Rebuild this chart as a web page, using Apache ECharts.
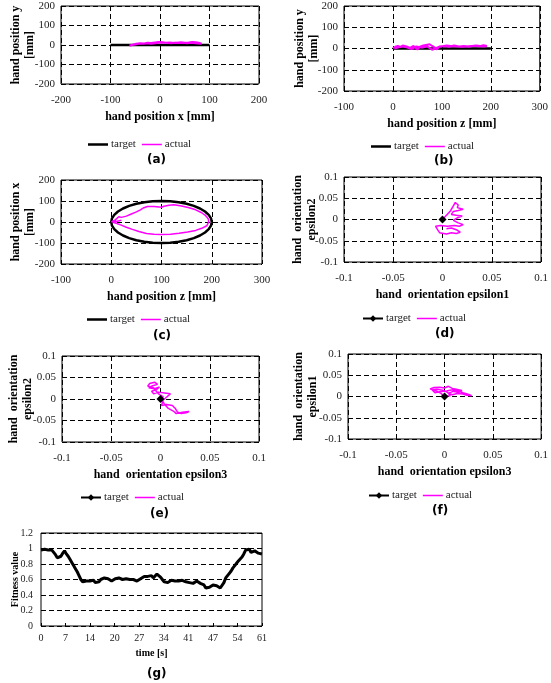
<!DOCTYPE html>
<html><head><meta charset="utf-8">
<script src="https://cdn.jsdelivr.net/npm/echarts@6/dist/echarts.min.js"></script>
<style>html,body{margin:0;padding:0;background:#fff}#c{width:551px;height:683px}</style>
</head><body><div id="c"></div><script>
// ---------------- DATA ----------------
// (a) hand position x vs y [mm]
const targetA = [[-100,0],[100,0]];
const actualA = [[-60,-4],[-55,2],[-48,6],[-40,9],[-32,8],[-25,11],[-18,10],[-10,13],[-3,15],[5,14],[12,12],[20,13],[28,10],[35,12],[42,14],[50,11],[58,13],[65,16],[72,14],[78,12],[84,7],[80,5],[72,9],[63,12],[55,9],[47,12],[38,10],[30,12],[22,9],[14,11],[6,13],[-2,11],[-10,9],[-18,7],[-26,9],[-34,6],[-42,7],[-50,3],[-57,0],[-62,-3]];
// (b) hand position z vs y [mm]
const targetB = [[0,0],[200,0]];
const actualB = [[0,2],[5,8],[10,12],[15,6],[20,14],[28,10],[35,3],[42,12],[50,-5],[55,8],[62,14],[70,18],[75,20],[80,12],[85,5],[90,-4],[95,10],[105,12],[115,8],[125,14],[135,10],[145,12],[155,8],[165,13],[175,10],[185,15],[192,12],[195,6],[185,9],[170,14],[155,11],[140,8],[125,10],[110,14],[95,8],[80,-6],[70,10],[60,4],[48,10],[38,-3],[28,6],[18,11],[10,4],[3,0]];
// (c) hand position z vs x [mm]
const targetC = [[200,0],[198.5,17.4],[194,34.2],[186.6,50],[176.6,64.3],[164.3,76.6],[150,86.6],[134.2,94],[117.4,98.5],[100,100],[82.6,98.5],[65.8,94],[50,86.6],[35.7,76.6],[23.4,64.3],[13.4,50],[6,34.2],[1.5,17.4],[0,0],[1.5,-17.4],[6,-34.2],[13.4,-50],[23.4,-64.3],[35.7,-76.6],[50,-86.6],[65.8,-94],[82.6,-98.5],[100,-100],[117.4,-98.5],[134.2,-94],[150,-86.6],[164.3,-76.6],[176.6,-64.3],[186.6,-50],[194,-34.2],[198.5,-17.4],[200,0]];
const actualC = [[0,0],[8,10],[15,25],[12,18],[20,22],[30,28],[40,38],[50,48],[58,58],[65,68],[72,74],[85,74],[95,72],[100,70],[105,75],[115,80],[125,82],[140,76],[155,68],[168,58],[180,44],[188,30],[193,15],[194,0],[190,-18],[180,-30],[168,-40],[152,-48],[135,-54],[118,-58],[100,-60],[85,-58],[70,-55],[55,-45],[42,-35],[30,-25],[20,-15],[10,-6],[3,-1],[12,4],[20,8],[10,3],[2,1]];
// (d) epsilon1 vs epsilon2
const targetD = [[0,0]];
const actualD = [[0,0],[0.004,0.01],[0.008,0.02],[0.011,0.032],[0.013,0.04],[0.016,0.034],[0.015,0.028],[0.021,0.024],[0.016,0.021],[0.011,0.019],[0.009,0.012],[0.014,0.01],[0.02,0.008],[0.015,0.004],[0.011,-0.002],[0.016,-0.008],[0.021,-0.012],[0.017,-0.016],[0.012,-0.014],[0.005,-0.016],[-0.002,-0.014],[-0.007,-0.016],[-0.005,-0.024],[-0.003,-0.031],[0.004,-0.034],[0.009,-0.031],[0.014,-0.033],[0.018,-0.03],[0.014,-0.024],[0.009,-0.02],[0.004,-0.022]];
// (e) epsilon3 vs epsilon2
const targetE = [[0,0]];
const actualE = [[0,0],[0.002,-0.008],[0.001,-0.015],[0.006,-0.013],[0.012,-0.015],[0.015,-0.022],[0.017,-0.03],[0.021,-0.034],[0.026,-0.032],[0.029,-0.029],[0.022,-0.031],[0.016,-0.034],[0.013,-0.028],[0.008,-0.022],[0.004,-0.012],[0.002,-0.004],[0.006,0.004],[0.01,0.012],[0.004,0.014],[-0.002,0.016],[-0.007,0.012],[-0.009,0.018],[-0.004,0.022],[-0.008,0.027],[-0.013,0.03],[-0.011,0.036],[-0.006,0.039],[-0.003,0.034],[-0.008,0.031],[-0.012,0.026],[-0.006,0.024],[-0.001,0.028],[-0.005,0.02],[-0.002,0.012],[0.003,0.005],[0,0.002]];
// (f) epsilon3 vs epsilon1
const targetF = [[0,0]];
const actualF = [[0,0],[-0.004,0.008],[-0.01,0.014],[-0.015,0.018],[-0.011,0.021],[-0.005,0.022],[0,0.02],[0.004,0.024],[0.008,0.019],[0.012,0.017],[0.018,0.014],[0.015,0.01],[0.009,0.012],[0.004,0.008],[0.008,0.004],[0.013,0.007],[0.019,0.006],[0.023,0.003],[0.028,0.002],[0.025,0.005],[0.019,0.009],[0.014,0.013],[0.008,0.016],[0.002,0.013],[-0.004,0.012],[-0.01,0.009],[-0.013,0.016],[-0.008,0.017],[-0.002,0.015],[0.003,0.01],[0.006,0.002],[0.002,0.001]];
// (g) fitness value, sampled every 0.5 s from 0 s
const fitnessStep = 0.5;
const fitnessValues = [0.98,0.97,0.99,0.97,0.98,0.96,0.98,0.95,0.92,0.88,0.86,0.90,0.94,0.97,0.93,0.90,0.86,0.82,0.78,0.74,0.70,0.65,0.60,0.57,0.56,0.58,0.56,0.58,0.57,0.59,0.56,0.58,0.57,0.60,0.59,0.62,0.60,0.61,0.59,0.58,0.60,0.61,0.60,0.62,0.61,0.60,0.62,0.61,0.62,0.60,0.61,0.60,0.59,0.58,0.60,0.61,0.63,0.64,0.65,0.64,0.63,0.65,0.62,0.64,0.67,0.68,0.63,0.60,0.57,0.55,0.56,0.58,0.59,0.57,0.58,0.59,0.58,0.57,0.59,0.58,0.57,0.58,0.56,0.57,0.55,0.56,0.58,0.57,0.55,0.54,0.53,0.49,0.47,0.50,0.52,0.53,0.51,0.52,0.50,0.49,0.50,0.56,0.62,0.65,0.68,0.71,0.75,0.78,0.81,0.84,0.86,0.89,0.93,0.98,0.97,0.99,0.95,0.93,0.97,0.98,0.94,0.95,0.93];
const timeTickLabels = ['0','7','14','20','27','34','41','47','54','61'];
const timeTickStep = 6.78;

// ---------------- LAYOUT ----------------
const SERIF = '"Liberation Serif","DejaVu Serif",serif';
const panels = [
  {id:'a', grid:{left:61,top:6,width:198,height:78}, x:[-200,200,100], y:[-200,200,100], xName:'hand position x [mm]', yName:'hand position y\n[mm]', yGap:24, legend:{left:88,top:139}, cap:{x:155,y:159}, target:targetA, actual:actualA, marker:false},
  {id:'b', grid:{left:344,top:6,width:200,height:85}, x:[-100,300,100], y:[-200,200,100], xName:'hand position z [mm]', yName:'hand position y\n[mm]', yGap:23, legend:{left:371,top:141}, cap:{x:442,y:160}, target:targetB, actual:actualB, marker:false},
  {id:'c', grid:{left:61,top:180,width:201,height:84}, x:[-100,300,100], y:[-200,200,100], xName:'hand position z [mm]', yName:'hand position x\n[mm]', yGap:24, legend:{left:87,top:314}, cap:{x:161,y:335}, target:targetC, actual:actualC, marker:false},
  {id:'d', grid:{left:344,top:177,width:197,height:85}, x:[-0.1,0.1,0.05], y:[-0.1,0.1,0.05], xName:'hand  orientation epsilon1', yName:'hand  orientation\nepsilon2', yGap:25, legend:{left:362,top:313}, cap:{x:443,y:333}, target:targetD, actual:actualD, marker:true},
  {id:'e', grid:{left:62,top:356,width:197,height:86}, x:[-0.1,0.1,0.05], y:[-0.1,0.1,0.05], xName:'hand  orientation epsilon3', yName:'hand  orientation\nepsilon2', yGap:27, legend:{left:80,top:492}, cap:{x:158,y:513}, target:targetE, actual:actualE, marker:true},
  {id:'f', grid:{left:348,top:354,width:197,height:85}, x:[-0.1,0.1,0.05], y:[-0.1,0.1,0.05], xName:'hand  orientation epsilon3', yName:'hand  orientation\nepsilon1', yGap:28, legend:{left:368,top:490}, cap:{x:440,y:510}, target:targetF, actual:actualF, marker:true}
];

// legend icons: plain line (keeps an 8px tall bounding box)
const thinLineIcon = 'path://M0,0 L0.01,0 L0,0.01 Z M0,3.25 L20,3.25 L20,4.75 L0,4.75 Z M20,8 L19.99,8 L20,7.99 Z';
const thickLineIcon = 'path://M0,0 L0.01,0 L0,0.01 Z M0,2.75 L20,2.75 L20,5.25 L0,5.25 Z M20,8 L19.99,8 L20,7.99 Z';

const option = {backgroundColor:'#fff', animation:false, grid:[], xAxis:[], yAxis:[], series:[], legend:[], title:[]};
const dashed = {show:true, lineStyle:{color:'#000', width:1, type:[5,3]}};
panels.forEach((p, i) => {
  option.grid.push(Object.assign({show:true, borderColor:'#000', borderWidth:1, backgroundColor:'#fff', containLabel:false}, p.grid));
  option.xAxis.push({type:'value', gridIndex:i, min:p.x[0], max:p.x[1], interval:p.x[2],
    axisLine:{show:false}, axisTick:{show:false}, splitLine:dashed,
    axisLabel:{fontFamily:SERIF, fontSize:11, color:'#222', margin:11},
    name:p.xName, nameLocation:'middle', nameGap:27,
    nameTextStyle:{fontFamily:SERIF, fontSize:12, fontWeight:'bold', color:'#000'}});
  option.yAxis.push({type:'value', gridIndex:i, min:p.y[0], max:p.y[1], interval:p.y[2],
    axisLine:{show:false}, axisTick:{show:false}, splitLine:dashed,
    axisLabel:{fontFamily:SERIF, fontSize:11, color:'#222', margin:6},
    name:p.yName, nameLocation:'middle', nameGap:p.yGap, nameRotate:90, nameMoveOverlap:false,
    nameTextStyle:{fontFamily:SERIF, fontSize:12, fontWeight:'bold', color:'#000', lineHeight:14}});
  option.series.push({name:'target_'+p.id, type:'line', xAxisIndex:i, yAxisIndex:i, data:p.target,
    symbol:p.marker?'diamond':'none', symbolSize:8, showSymbol:p.marker,
    itemStyle:{color:'#000'}, lineStyle:{color:'#000', width:p.marker?2:2.5}, z:p.marker?4:2});
  option.series.push({name:'actual_'+p.id, type:'line', xAxisIndex:i, yAxisIndex:i, data:p.actual,
    symbol:'none', showSymbol:false, itemStyle:{color:'#ff00ff'}, lineStyle:{color:'#ff00ff', width:(p.id==='a'||p.id==='b')?2:1.5}, z:3});
  option.legend.push({left:p.legend.left, top:p.legend.top, orient:'horizontal', padding:0,
    itemWidth:20, itemHeight:8, itemGap:6, selectedMode:false,
    data:[p.marker ? {name:'target_'+p.id} : {name:'target_'+p.id, icon:thickLineIcon},
          {name:'actual_'+p.id, icon:thinLineIcon}],
    formatter:n => n.split('_')[0],
    textStyle:{fontFamily:SERIF, fontSize:11, color:'#222', padding:[0,0,0,-2]}});
  option.title.push({text:'('+p.id+')', left:p.cap.x-8, top:p.cap.y-5, padding:0,
    textStyle:{fontFamily:'"DejaVu Sans",sans-serif', fontSize:12, fontWeight:'bold', color:'#000'}});
});

// (g) fitness panel
const gi = panels.length;
option.grid.push({show:true, left:41, top:533, width:221, height:93, borderColor:'#000', borderWidth:1, backgroundColor:'#fff'});
option.xAxis.push({type:'value', gridIndex:gi, min:0, max:timeTickStep*(timeTickLabels.length-1), interval:timeTickStep,
  axisLine:{show:false}, axisTick:{show:true, inside:true, length:3, lineStyle:{color:'#000'}}, splitLine:{show:false},
  axisLabel:{fontFamily:SERIF, fontSize:10, color:'#222', margin:7, showMaxLabel:true,
    formatter:(v) => timeTickLabels[Math.round(v / timeTickStep)]},
  name:'time [s]', nameLocation:'middle', nameGap:22,
  nameTextStyle:{fontFamily:SERIF, fontSize:10, fontWeight:'bold', color:'#000'}});
option.yAxis.push({type:'value', gridIndex:gi, min:0, max:1.2, interval:0.2,
  axisLine:{show:false}, axisTick:{show:false}, splitLine:dashed,
  axisLabel:{fontFamily:SERIF, fontSize:10, color:'#222', margin:8},
  name:'Fitness value', nameLocation:'middle', nameGap:21, nameRotate:90, nameMoveOverlap:false,
  nameTextStyle:{fontFamily:SERIF, fontSize:10, fontWeight:'bold', color:'#000'}});
option.series.push({name:'fitness', type:'line', xAxisIndex:gi, yAxisIndex:gi,
  data:fitnessValues.map((v, k) => [k * fitnessStep, v]),
  symbol:'none', showSymbol:false, lineStyle:{color:'#000', width:3}, itemStyle:{color:'#000'}});
option.title.push({text:'(g)', left:147, top:668, padding:0,
  textStyle:{fontFamily:'"DejaVu Sans",sans-serif', fontSize:12, fontWeight:'bold', color:'#000'}});

const chart = echarts.init(document.getElementById('c'), null, {renderer:'canvas'});
chart.setOption(option);
</script></body></html>
